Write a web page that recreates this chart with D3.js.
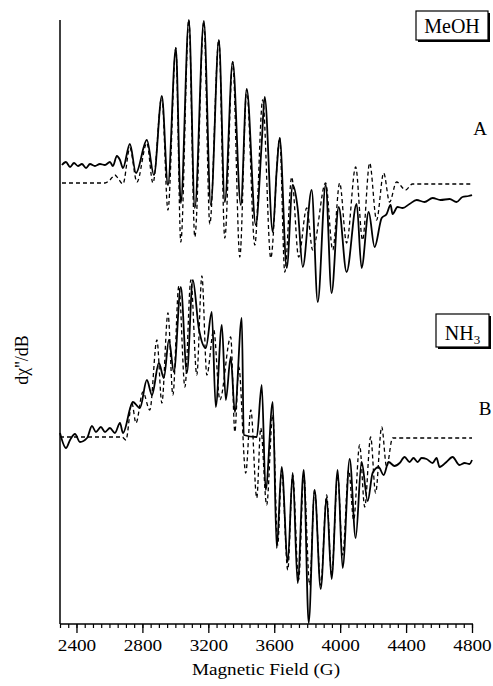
<!DOCTYPE html>
<meta charset="utf-8">
<style>
    body { margin: 0; background: #fff; }
    text { font-family: "Liberation Serif", "Times New Roman", serif; fill: #000; }
    .trace { fill: none; stroke: #000; }
    .solid { stroke-width: 1.8px; }
    .dashed { stroke-width: 1.3px; stroke-dasharray: 4,3; }
</style>
<body>
<div id="chart"></div>
<script src="https://d3js.org/d3.v7.min.js"></script>
<script>
    // field ticks (G)
    var majorTicks = [2400, 2800, 3200, 3600, 4000, 4400, 4800];

    // spectrum A (MeOH) — [field G, signal a.u.], experiment and simulation
    var meohExp = [
        [2312, 18], [2336, 21], [2361, 16], [2385, 20], [2409, 17], [2433, 19], [2458, 15],
        [2482, 19], [2512, 17], [2542, 19], [2573, 18], [2603, 21], [2621, 17], [2645, 27],
        [2664, 23], [2682, 15], [2724, 39], [2761, 10], [2827, 43], [2870, 8], [2918, 87],
        [2955, -2], [3003, 135], [3033, -20], [3082, 163], [3118, -25], [3173, 162],
        [3215, -22], [3264, 143], [3300, -19], [3348, 121], [3397, -22], [3433, 94],
        [3488, -42], [3524, 40], [3542, 86], [3591, -49], [3615, 13], [3633, 45],
        [3676, -85], [3712, -2], [3742, -25], [3773, -84], [3827, -7], [3864, -119],
        [3912, -2], [3948, -110], [3991, -24], [4039, -89], [4100, -21], [4130, -85],
        [4173, -29], [4209, -64], [4252, -35], [4282, -31], [4306, -22], [4318, -31],
        [4348, -24], [4379, -25], [4421, -21], [4464, -17], [4512, -19], [4561, -15],
        [4609, -17], [4664, -16], [4706, -19], [4742, -14], [4779, -13], [4800, -12]
    ];
    var meohSim = [
        [2312, 0], [2573, 0], [2603, 3], [2633, 8], [2651, 5], [2682, -1], [2724, 35],
        [2767, 1], [2827, 40], [2864, 0], [2918, 86], [2955, -27], [3003, 135], [3033, -59],
        [3082, 163], [3118, -54], [3173, 161], [3209, -41], [3264, 143], [3300, -55],
        [3348, 121], [3391, -74], [3433, 93], [3482, -62], [3530, 83], [3579, -75],
        [3633, 45], [3664, -89], [3706, 6], [3748, -74], [3797, -25], [3833, -67],
        [3912, 0], [3955, -67], [3997, 0], [4039, -60], [4094, 16], [4136, -57],
        [4179, 20], [4221, -37], [4264, 10], [4300, -19], [4342, 1], [4397, -7],
        [4439, -1], [4800, -1]
    ];

    // spectrum B (NH3)
    var nh3Exp = [
        [2300, 4], [2336, -11], [2361, -3], [2391, 3], [2421, -5], [2464, -1], [2494, 11],
        [2518, 5], [2548, 10], [2573, 5], [2603, 9], [2633, 4], [2664, 14], [2682, 4],
        [2742, 35], [2785, 29], [2827, 57], [2858, 42], [2900, 74], [2930, 59], [2961, 97],
        [2991, 65], [3033, 150], [3070, 64], [3106, 157], [3142, 109], [3185, 89],
        [3221, 125], [3245, 30], [3282, 112], [3306, 37], [3336, 80], [3361, 25],
        [3403, 119], [3415, 2], [3494, 0], [3524, 52], [3548, -53], [3591, 35],
        [3615, -111], [3645, -30], [3682, -125], [3712, -36], [3742, -146], [3779, -33],
        [3809, -186], [3845, -53], [3882, -152], [3918, -61], [3948, -142], [3985, -33],
        [4015, -131], [4058, -22], [4094, -101], [4130, -25], [4167, -64], [4197, -36],
        [4233, -30], [4264, -38], [4294, -25], [4330, -29], [4361, -26], [4391, -20],
        [4421, -25], [4445, -21], [4470, -25], [4494, -21], [4524, -22], [4561, -26],
        [4585, -21], [4603, -30], [4645, -25], [4682, -20], [4724, -28], [4755, -26],
        [4785, -27], [4800, -23]
    ];
    var nh3Sim = [
        [2300, 0], [2676, 0], [2700, -3], [2736, 34], [2761, 14], [2803, 45], [2845, 27],
        [2888, 97], [2918, 34], [2955, 124], [2985, 42], [3021, 151], [3058, 50],
        [3094, 157], [3130, 62], [3161, 161], [3191, 62], [3233, 107], [3270, 37],
        [3336, 100], [3361, 5], [3385, 70], [3427, -36], [3458, 27], [3494, -61],
        [3518, 9], [3554, -68], [3591, 22], [3621, -108], [3645, -33], [3682, -133],
        [3712, -38], [3748, -143], [3779, -38], [3815, -148], [3845, -53], [3882, -148],
        [3918, -58], [3948, -138], [3985, -38], [4015, -118], [4052, -33], [4082, -83],
        [4118, -8], [4149, -70], [4185, 0], [4215, -56], [4252, 10], [4282, -30],
        [4318, -1], [4800, -1]
    ];

    var offsetA = 441, offsetB = 187;

    var width = 493,
        height = 686,
        margin = { left: 60, right: 21, top: 20, bottom: 62 };

    var svg = d3.select("#chart").append("svg")
        .attr("width", width)
        .attr("height", height);

    var x = d3.scaleLinear().domain([2300, 4800]).range([margin.left, width - margin.right]);
    var y = d3.scaleLinear().domain([0, 604]).range([height - margin.bottom, margin.top]);

    // x axis with 50 G minor ticks
    var axisY = height - margin.bottom;
    svg.append("g")
        .attr("transform", "translate(0," + axisY + ")")
        .call(d3.axisBottom(x).tickValues(d3.range(2300, 4801, 50)).tickSize(4).tickFormat(""))
        .call(function (g) { g.select(".domain").remove(); })
        .selectAll("line").attr("stroke-width", 1.2);
    svg.append("g")
        .attr("transform", "translate(0," + axisY + ")")
        .call(d3.axisBottom(x).tickValues(majorTicks).tickSize(9).tickPadding(10).tickFormat(d3.format("d")))
        .call(function (g) {
            g.select(".domain").remove();
            g.selectAll("line").attr("stroke-width", 1.3);
            g.selectAll("text")
                .attr("y", 0)
                .attr("dy", null)
                .attr("transform", "translate(0,27) scale(1.2,1)")
                .style("font-size", "16px")
                .style("font-family", "Liberation Serif");
        });
    svg.append("line")
        .attr("x1", x(2300)).attr("x2", x(4800) + 1)
        .attr("y1", axisY).attr("y2", axisY)
        .attr("stroke", "#000").attr("stroke-width", 1.5);

    // y axis line only
    svg.append("line")
        .attr("x1", x(2300)).attr("x2", x(2300))
        .attr("y1", margin.top).attr("y2", axisY)
        .attr("stroke", "#000").attr("stroke-width", 1.5);

    svg.append("text")
        .attr("transform", "translate(" + (x(2300) + x(4800)) / 2 + ",675) scale(1.2,1)")
        .attr("text-anchor", "middle")
        .style("font-size", "16px")
        .text("Magnetic Field (G)");

    svg.append("text")
        .attr("transform", "translate(28,360) rotate(-90)")
        .attr("text-anchor", "middle")
        .style("font-size", "18px")
        .text("dχ''/dB");

    function traceLine(offset) {
        return d3.line()
            .x(function (d) { return x(d[0]); })
            .y(function (d) { return y(d[1] + offset); })
            .curve(d3.curveMonotoneX);
    }

    svg.append("path").datum(meohSim).attr("class", "trace dashed").attr("d", traceLine(offsetA));
    svg.append("path").datum(meohExp).attr("class", "trace solid").attr("d", traceLine(offsetA));
    svg.append("path").datum(nh3Sim).attr("class", "trace dashed").attr("d", traceLine(offsetB));
    svg.append("path").datum(nh3Exp).attr("class", "trace solid").attr("d", traceLine(offsetB));

    // boxed solvent labels with drop shadow
    function boxLabel(bx, by, bw, bh, build) {
        svg.append("rect").attr("x", bx + 2).attr("y", by + 2).attr("width", bw).attr("height", bh).attr("fill", "#000");
        svg.append("rect").attr("x", bx).attr("y", by).attr("width", bw).attr("height", bh)
            .attr("fill", "#fff").attr("stroke", "#000").attr("stroke-width", 1.2);
        var t = svg.append("text").attr("x", bx + bw / 2).attr("y", by + bh - 7)
            .attr("text-anchor", "middle").style("font-size", "20px");
        build(t);
    }
    boxLabel(416, 11, 72, 29, function (t) { t.text("MeOH"); });
    boxLabel(436, 314, 53, 33, function (t) {
        t.append("tspan").text("NH");
        t.append("tspan").attr("dy", 4).style("font-size", "13px").text("3");
    });

    svg.append("text").attr("x", 480).attr("y", 135).attr("text-anchor", "middle").style("font-size", "19px").text("A");
    svg.append("text").attr("x", 485).attr("y", 415).attr("text-anchor", "middle").style("font-size", "19px").text("B");
</script>
